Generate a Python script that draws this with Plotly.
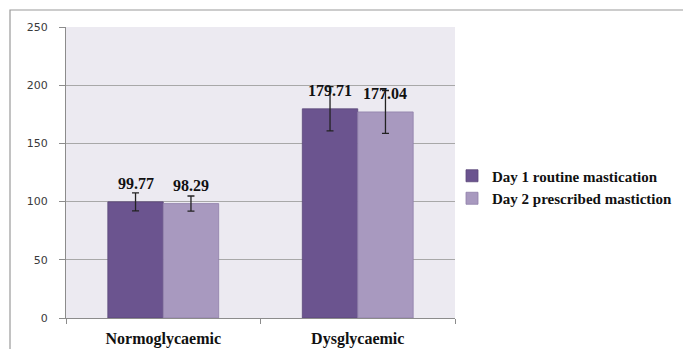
import plotly.graph_objects as go

categories = ["Normoglycaemic", "Dysglycaemic"]
series_names = ["Day 1 routine mastication", "Day 2 prescribed mastiction"]
day1_values = [99.77, 179.71]
day2_values = [98.29, 177.04]
day1_err = [7.7, 19.0]
day2_err = [6.5, 18.4]
y_ticks = [0, 50, 100, 150, 200, 250]

colors = ["#6B548F", "#A899BF"]
edge_colors = ["#5A4878", "#8F7FAA"]

# page has an 8px body margin; size the figure to fit the 691x349 window
OFF = 8
W, H = 691 - OFF, 349 - OFF
# target plot area in window pixels: x 66..455, y 27..318
ml, mr, mt, mb = 66 - OFF, 691 - 455, 27 - OFF, 349 - 318
pw, ph = W - ml - mr, H - mt - mb
bargap = 0.43
bar_px = pw / len(categories) * (1 - bargap) / 2

fig = go.Figure()
for i, (name, vals, errs) in enumerate(zip(series_names, [day1_values, day2_values], [day1_err, day2_err])):
    fig.add_trace(go.Bar(
        x=categories, y=vals, name="<b>" + name + "</b>",
        marker=dict(color=colors[i], line=dict(color=edge_colors[i], width=0.8)),
        error_y=dict(type="data", array=errs, visible=True, color="#222222", thickness=1.3, width=3.5),
    ))
    for c, v in zip(categories, vals):
        fig.add_annotation(x=c, y=v, xref="x", yref="y", text=f"<b>{v:.2f}</b>",
                           showarrow=False, yanchor="bottom",
                           xshift=(-0.5 if i == 0 else 0.5) * bar_px, yshift=8,
                           font=dict(family="Liberation Serif", size=16, color="#111111"))

def px_to_paper_x(px):  # px in window coordinates
    return (px - OFF - ml) / pw

def px_to_paper_y(py):
    return (H - mb - (py - OFF)) / ph

# outer chart border (top and left)
fig.add_shape(type="path", xref="paper", yref="paper",
              path=f"M {px_to_paper_x(10)} {px_to_paper_y(H+20)} L {px_to_paper_x(10)} {px_to_paper_y(10)} L {px_to_paper_x(W+20)} {px_to_paper_y(10)}",
              line=dict(color="#9A9A9A", width=1.2), layer="above")

fig.update_layout(
    width=W, height=H,
    margin=dict(l=ml, r=mr, t=mt, b=mb, pad=0, autoexpand=False),
    paper_bgcolor="white",
    plot_bgcolor="#ECEAF1",
    barmode="group", bargap=bargap, bargroupgap=0,
    showlegend=True,
    legend=dict(x=px_to_paper_x(452), y=px_to_paper_y(187), xanchor="left", yanchor="middle",
                font=dict(family="Liberation Serif", size=15, color="#111111"),
                bgcolor="rgba(0,0,0,0)", itemwidth=30),
    xaxis=dict(type="category", showline=True, linecolor="#8C8C8C", linewidth=1, automargin=False,
               ticks="outside", tickson="boundaries", ticklen=5, tickcolor="#8C8C8C",
               showgrid=False, tickprefix="<b>", ticksuffix="</b>",
               tickfont=dict(family="Liberation Serif", size=16, color="#111111"),
               ticklabelstandoff=6),
    yaxis=dict(range=[0, 250], tickvals=y_ticks, showline=True, linecolor="#8C8C8C", linewidth=1,
               automargin=False,
               ticks="outside", ticklen=6, tickcolor="#8C8C8C",
               showgrid=True, gridcolor="#A8A8A8", gridwidth=1, zeroline=False,
               tickfont=dict(family="DejaVu Sans", size=11, color="#3A3A3A"),
               ticklabelstandoff=9),
)

fig.write_html("out.html")
